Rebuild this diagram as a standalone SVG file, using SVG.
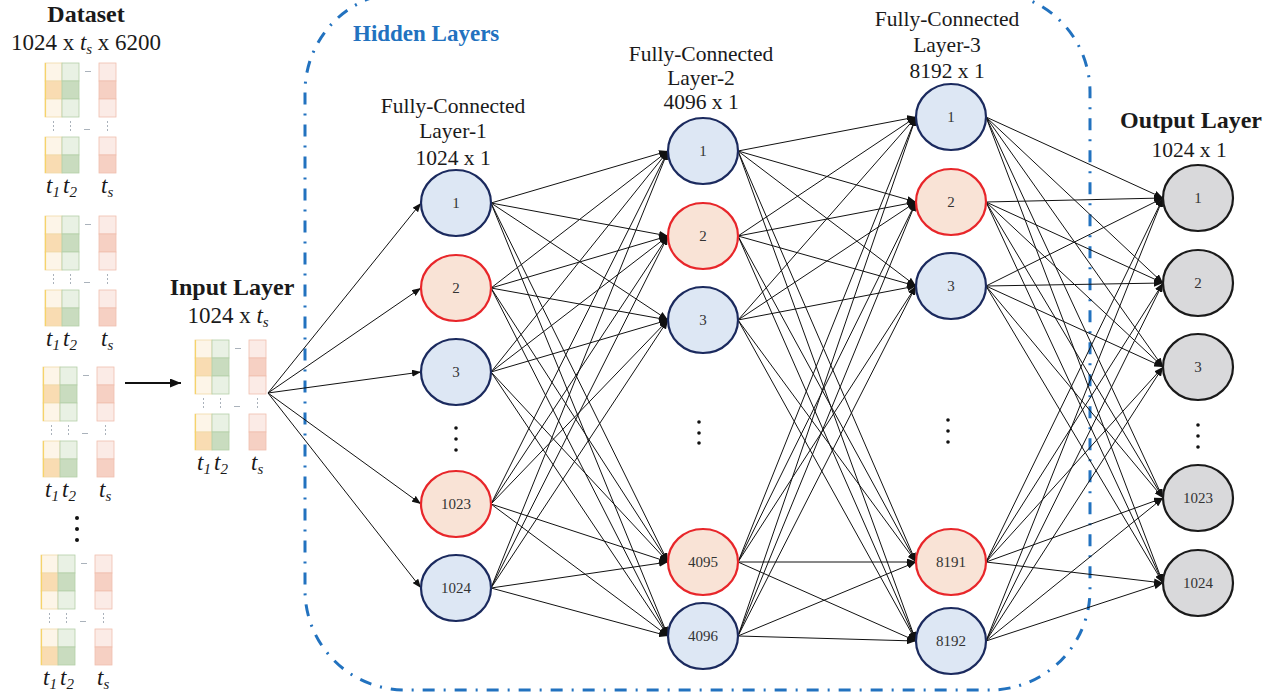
<svg xmlns="http://www.w3.org/2000/svg" xmlns:xlink="http://www.w3.org/1999/xlink" width="1279" height="697" viewBox="0 0 1279 697">
<style>
text{font-family:"Liberation Serif","Times New Roman",serif;fill:#1a1a1a}
.t{font-size:21.5px;text-anchor:middle}
.b{font-size:24px;font-weight:bold;text-anchor:middle}
.it{font-style:italic}
.sub{font-size:15px;font-style:italic}
.lab{font-size:23px}
.nl{font-size:15px;text-anchor:middle;fill:#333}
.nb{fill:#dde7f4;stroke:#1b2a5e;stroke-width:2.2}
.nr{fill:#f9e3d6;stroke:#e8262a;stroke-width:2.2}
.ng{fill:#d9d9db;stroke:#1a1a1a;stroke-width:2.2}
.c line{stroke:#111;stroke-width:1;marker-end:url(#ah)}
.dot{fill:#111}
</style>
<defs>
<marker id="ah" markerWidth="9" markerHeight="7" refX="9" refY="3.5" orient="auto" markerUnits="userSpaceOnUse"><path d="M0,0 L9,3.5 L0,7 z" fill="#111"/></marker>
<marker id="ah2" markerWidth="11" markerHeight="9" refX="11" refY="4.5" orient="auto" markerUnits="userSpaceOnUse"><path d="M0,0 L11,4.5 L0,9 z" fill="#111"/></marker>
<symbol id="thumb" overflow="visible">
<g stroke-width="0.8">
<g stroke="#efd9a8"><rect x="0" y="0" width="17" height="18" fill="#fdf5e8"/><rect x="0" y="18" width="17" height="18" fill="#f9dcb2"/><rect x="0" y="36" width="17" height="18" fill="#fdf5e8"/><rect x="0" y="74" width="17" height="18" fill="#fdf5e8"/><rect x="0" y="92" width="17" height="18" fill="#f9dcb2"/></g>
<g stroke="#b5cfa8"><rect x="17" y="0" width="17" height="18" fill="#e9f1e4"/><rect x="17" y="18" width="17" height="18" fill="#c9dcbf"/><rect x="17" y="36" width="17" height="18" fill="#e9f1e4"/><rect x="17" y="74" width="17" height="18" fill="#e9f1e4"/><rect x="17" y="92" width="17" height="18" fill="#c9dcbf"/></g>
<g stroke="#f0bfae"><rect x="54" y="0" width="17" height="18" fill="#fbebe6"/><rect x="54" y="18" width="17" height="18" fill="#f6d0c3"/><rect x="54" y="36" width="17" height="18" fill="#fbebe6"/><rect x="54" y="74" width="17" height="18" fill="#fbebe6"/><rect x="54" y="92" width="17" height="18" fill="#f6d0c3"/></g>
<line x1="0.5" y1="0" x2="0.5" y2="54" stroke="#f6d36a" stroke-width="1.2"/><line x1="0.5" y1="74" x2="0.5" y2="110" stroke="#f6d36a" stroke-width="1.2"/>
</g>
<g fill="#aab2bb"><rect x="40" y="8" width="6" height="1"/><rect x="39" y="66" width="6" height="1"/><rect x="8" y="58" width="1" height="2"/><rect x="8" y="62" width="1" height="2"/><rect x="8" y="66" width="1" height="2"/><rect x="25" y="58" width="1" height="2"/><rect x="25" y="62" width="1" height="2"/><rect x="25" y="66" width="1" height="2"/><rect x="62" y="58" width="1" height="2"/><rect x="62" y="62" width="1" height="2"/><rect x="62" y="66" width="1" height="2"/></g>
</symbol>
</defs>
<rect width="1279" height="697" fill="#fff"/>

<g id="hidden-box">
<rect x="305" y="-8" width="785" height="698" rx="100" ry="100" fill="none" stroke="#2272bf" stroke-width="3" stroke-dasharray="12 9 2 9"/>
<text x="353" y="41" style="font-size:23px;font-weight:bold;fill:#2272bf">Hidden Layers</text>
</g>

<g id="dataset">
<text class="b" x="86" y="22">Dataset</text>
<text class="lab" x="86" y="50" text-anchor="middle">1024 x <tspan class="it">t</tspan><tspan class="sub" dy="4">s</tspan><tspan dy="-4"> x 6200</tspan></text>
<use xlink:href="#thumb" href="#thumb" x="45" y="63"/>
<text class="lab" y="193"><tspan class="it" x="46">t</tspan><tspan class="sub" dy="4">1</tspan><tspan class="it" x="63" dy="-4">t</tspan><tspan class="sub" dy="4">2</tspan></text>
<text class="lab" x="101" y="193"><tspan class="it">t</tspan><tspan class="sub" dy="4">s</tspan></text>
<use xlink:href="#thumb" href="#thumb" x="45" y="216"/>
<text class="lab" y="346"><tspan class="it" x="46">t</tspan><tspan class="sub" dy="4">1</tspan><tspan class="it" x="63" dy="-4">t</tspan><tspan class="sub" dy="4">2</tspan></text>
<text class="lab" x="101" y="346"><tspan class="it">t</tspan><tspan class="sub" dy="4">s</tspan></text>
<use xlink:href="#thumb" href="#thumb" x="43" y="367"/>
<text class="lab" y="497"><tspan class="it" x="45">t</tspan><tspan class="sub" dy="4">1</tspan><tspan class="it" x="62" dy="-4">t</tspan><tspan class="sub" dy="4">2</tspan></text>
<text class="lab" x="99" y="497"><tspan class="it">t</tspan><tspan class="sub" dy="4">s</tspan></text>
<circle class="dot" cx="77" cy="518" r="2"/><circle class="dot" cx="77" cy="529" r="2"/><circle class="dot" cx="77" cy="540" r="2"/>
<use xlink:href="#thumb" href="#thumb" x="41" y="555"/>
<text class="lab" y="685"><tspan class="it" x="43">t</tspan><tspan class="sub" dy="4">1</tspan><tspan class="it" x="60" dy="-4">t</tspan><tspan class="sub" dy="4">2</tspan></text>
<text class="lab" x="97" y="685"><tspan class="it">t</tspan><tspan class="sub" dy="4">s</tspan></text>
</g>

<g id="input-layer">
<text class="b" x="232" y="295">Input Layer</text>
<text class="lab" x="228" y="323" text-anchor="middle">1024 x <tspan class="it">t</tspan><tspan class="sub" dy="4">s</tspan></text>
<use xlink:href="#thumb" href="#thumb" x="195" y="340"/>
<text class="lab" y="470"><tspan class="it" x="197">t</tspan><tspan class="sub" dy="4">1</tspan><tspan class="it" x="214" dy="-4">t</tspan><tspan class="sub" dy="4">2</tspan></text>
<text class="lab" x="251" y="470"><tspan class="it">t</tspan><tspan class="sub" dy="4">s</tspan></text>
</g>

<g id="titles">
<text class="t" x="453" y="113">Fully-Connected</text>
<text class="t" x="453" y="138">Layer-1</text>
<text class="t" x="453" y="165">1024 x 1</text>
<text class="t" x="701" y="61">Fully-Connected</text>
<text class="t" x="701" y="85">Layer-2</text>
<text class="t" x="701" y="109">4096 x 1</text>
<text class="t" x="947" y="26">Fully-Connected</text>
<text class="t" x="947" y="52">Layer-3</text>
<text class="t" x="947" y="78">8192 x 1</text>
<text class="b" x="1191" y="128">Output Layer</text>
<text class="t" x="1189" y="157">1024 x 1</text>
</g>

<g id="connectors" class="c">
<line x1="125" y1="383" x2="181" y2="383" style="stroke-width:2;marker-end:url(#ah2)"/>
<line x1="268" y1="393" x2="421" y2="203"/>
<line x1="268" y1="393" x2="421" y2="288"/>
<line x1="268" y1="393" x2="421" y2="372"/>
<line x1="268" y1="393" x2="421" y2="504"/>
<line x1="268" y1="393" x2="421" y2="588"/>

<line x1="491" y1="203" x2="668" y2="151"/><line x1="491" y1="203" x2="668" y2="236"/><line x1="491" y1="203" x2="668" y2="320"/><line x1="491" y1="203" x2="668" y2="562"/><line x1="491" y1="203" x2="668" y2="636"/>
<line x1="491" y1="288" x2="668" y2="151"/><line x1="491" y1="288" x2="668" y2="236"/><line x1="491" y1="288" x2="668" y2="320"/><line x1="491" y1="288" x2="668" y2="562"/><line x1="491" y1="288" x2="668" y2="636"/>
<line x1="491" y1="372" x2="668" y2="151"/><line x1="491" y1="372" x2="668" y2="236"/><line x1="491" y1="372" x2="668" y2="320"/><line x1="491" y1="372" x2="668" y2="562"/><line x1="491" y1="372" x2="668" y2="636"/>
<line x1="491" y1="504" x2="668" y2="151"/><line x1="491" y1="504" x2="668" y2="236"/><line x1="491" y1="504" x2="668" y2="320"/><line x1="491" y1="504" x2="668" y2="562"/><line x1="491" y1="504" x2="668" y2="636"/>
<line x1="491" y1="588" x2="668" y2="151"/><line x1="491" y1="588" x2="668" y2="236"/><line x1="491" y1="588" x2="668" y2="320"/><line x1="491" y1="588" x2="668" y2="562"/><line x1="491" y1="588" x2="668" y2="636"/>

<line x1="738" y1="151" x2="916" y2="117"/><line x1="738" y1="151" x2="916" y2="202"/><line x1="738" y1="151" x2="916" y2="286"/><line x1="738" y1="151" x2="916" y2="562"/><line x1="738" y1="151" x2="916" y2="641"/>
<line x1="738" y1="236" x2="916" y2="117"/><line x1="738" y1="236" x2="916" y2="202"/><line x1="738" y1="236" x2="916" y2="286"/><line x1="738" y1="236" x2="916" y2="562"/><line x1="738" y1="236" x2="916" y2="641"/>
<line x1="738" y1="320" x2="916" y2="117"/><line x1="738" y1="320" x2="916" y2="202"/><line x1="738" y1="320" x2="916" y2="286"/><line x1="738" y1="320" x2="916" y2="562"/><line x1="738" y1="320" x2="916" y2="641"/>
<line x1="738" y1="562" x2="916" y2="117"/><line x1="738" y1="562" x2="916" y2="202"/><line x1="738" y1="562" x2="916" y2="286"/><line x1="738" y1="562" x2="916" y2="562"/><line x1="738" y1="562" x2="916" y2="641"/>
<line x1="738" y1="636" x2="916" y2="117"/><line x1="738" y1="636" x2="916" y2="202"/><line x1="738" y1="636" x2="916" y2="286"/><line x1="738" y1="636" x2="916" y2="562"/><line x1="738" y1="636" x2="916" y2="641"/>

<line x1="986" y1="117" x2="1163" y2="198"/><line x1="986" y1="117" x2="1163" y2="283"/><line x1="986" y1="117" x2="1163" y2="367"/><line x1="986" y1="117" x2="1163" y2="498"/><line x1="986" y1="117" x2="1163" y2="583"/>
<line x1="986" y1="202" x2="1163" y2="198"/><line x1="986" y1="202" x2="1163" y2="283"/><line x1="986" y1="202" x2="1163" y2="367"/><line x1="986" y1="202" x2="1163" y2="498"/><line x1="986" y1="202" x2="1163" y2="583"/>
<line x1="986" y1="286" x2="1163" y2="198"/><line x1="986" y1="286" x2="1163" y2="283"/><line x1="986" y1="286" x2="1163" y2="367"/><line x1="986" y1="286" x2="1163" y2="498"/><line x1="986" y1="286" x2="1163" y2="583"/>
<line x1="986" y1="562" x2="1163" y2="198"/><line x1="986" y1="562" x2="1163" y2="283"/><line x1="986" y1="562" x2="1163" y2="367"/><line x1="986" y1="562" x2="1163" y2="498"/><line x1="986" y1="562" x2="1163" y2="583"/>
<line x1="986" y1="641" x2="1163" y2="198"/><line x1="986" y1="641" x2="1163" y2="283"/><line x1="986" y1="641" x2="1163" y2="367"/><line x1="986" y1="641" x2="1163" y2="498"/><line x1="986" y1="641" x2="1163" y2="583"/>
</g>

<g id="l1-1"><ellipse class="nb" cx="456" cy="203" rx="35" ry="33"/><text class="nl" x="456" y="208">1</text></g>
<g id="l1-2"><ellipse class="nr" cx="456" cy="288" rx="35" ry="33"/><text class="nl" x="456" y="293">2</text></g>
<g id="l1-3"><ellipse class="nb" cx="456" cy="372" rx="35" ry="33"/><text class="nl" x="456" y="377">3</text></g>
<g id="l1-dots"><circle class="dot" cx="456" cy="428" r="1.8"/><circle class="dot" cx="456" cy="439" r="1.8"/><circle class="dot" cx="456" cy="450" r="1.8"/></g>
<g id="l1-1023"><ellipse class="nr" cx="456" cy="504" rx="35" ry="33"/><text class="nl" x="456" y="509">1023</text></g>
<g id="l1-1024"><ellipse class="nb" cx="456" cy="588" rx="35" ry="33"/><text class="nl" x="456" y="593">1024</text></g>

<g id="l2-1"><ellipse class="nb" cx="703" cy="151" rx="35" ry="33"/><text class="nl" x="703" y="156">1</text></g>
<g id="l2-2"><ellipse class="nr" cx="703" cy="236" rx="35" ry="33"/><text class="nl" x="703" y="241">2</text></g>
<g id="l2-3"><ellipse class="nb" cx="703" cy="320" rx="35" ry="33"/><text class="nl" x="703" y="325">3</text></g>
<g id="l2-dots"><circle class="dot" cx="699" cy="422" r="1.8"/><circle class="dot" cx="699" cy="433" r="1.8"/><circle class="dot" cx="699" cy="443" r="1.8"/></g>
<g id="l2-4095"><ellipse class="nr" cx="703" cy="562" rx="35" ry="33"/><text class="nl" x="703" y="567">4095</text></g>
<g id="l2-4096"><ellipse class="nb" cx="703" cy="636" rx="35" ry="33"/><text class="nl" x="703" y="641">4096</text></g>

<g id="l3-1"><ellipse class="nb" cx="951" cy="117" rx="35" ry="33"/><text class="nl" x="951" y="122">1</text></g>
<g id="l3-2"><ellipse class="nr" cx="951" cy="202" rx="35" ry="33"/><text class="nl" x="951" y="207">2</text></g>
<g id="l3-3"><ellipse class="nb" cx="951" cy="286" rx="35" ry="33"/><text class="nl" x="951" y="291">3</text></g>
<g id="l3-dots"><circle class="dot" cx="948" cy="420" r="1.8"/><circle class="dot" cx="948" cy="431" r="1.8"/><circle class="dot" cx="948" cy="442" r="1.8"/></g>
<g id="l3-8191"><ellipse class="nr" cx="951" cy="562" rx="35" ry="33"/><text class="nl" x="951" y="567">8191</text></g>
<g id="l3-8192"><ellipse class="nb" cx="951" cy="641" rx="35" ry="33"/><text class="nl" x="951" y="646">8192</text></g>

<g id="out-1"><ellipse class="ng" cx="1198" cy="198" rx="35" ry="33"/><text class="nl" x="1198" y="203">1</text></g>
<g id="out-2"><ellipse class="ng" cx="1198" cy="283" rx="35" ry="33"/><text class="nl" x="1198" y="288">2</text></g>
<g id="out-3"><ellipse class="ng" cx="1198" cy="367" rx="35" ry="33"/><text class="nl" x="1198" y="372">3</text></g>
<g id="out-dots"><circle class="dot" cx="1198" cy="425" r="1.8"/><circle class="dot" cx="1198" cy="436" r="1.8"/><circle class="dot" cx="1198" cy="447" r="1.8"/></g>
<g id="out-1023"><ellipse class="ng" cx="1198" cy="498" rx="35" ry="33"/><text class="nl" x="1198" y="503">1023</text></g>
<g id="out-1024"><ellipse class="ng" cx="1198" cy="583" rx="35" ry="33"/><text class="nl" x="1198" y="588">1024</text></g>
</svg>
